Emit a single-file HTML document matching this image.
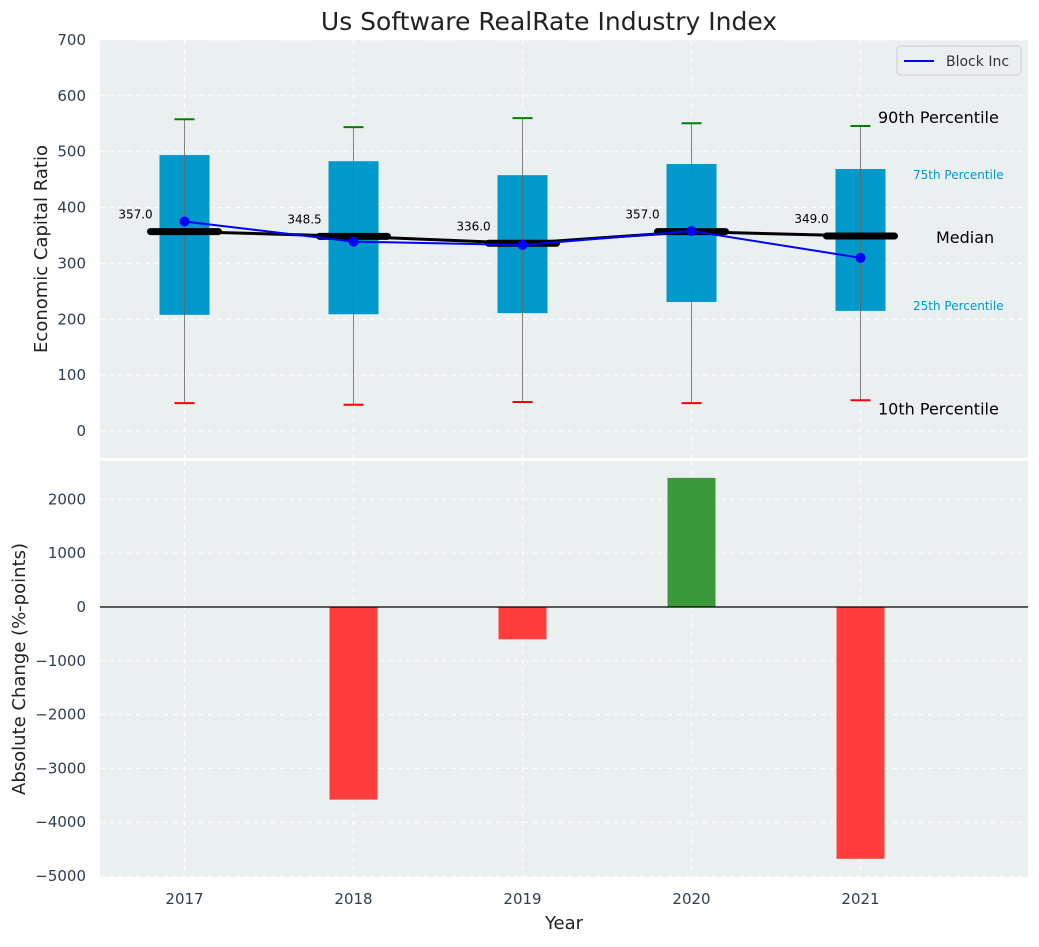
<!DOCTYPE html>
<html><head><meta charset="utf-8"><style>
body{margin:0;background:#fff;font-family:"Liberation Sans","DejaVu Sans",sans-serif}
svg text{font-family:"DejaVu Sans","Liberation Sans",sans-serif}
</style></head><body>
<svg id="c" width="1039" height="942" xmlns="http://www.w3.org/2000/svg"></svg>
<script>
const years=[2017,2018,2019,2020,2021];
const p10=[50,47,52,50,55];
const p25=[208,209,211,231,215];
const medians=[357,348.5,336,357,349];
const p75=[494,483,458,478,469];
const p90=[558,544,560,551,546];
const company=[375,339,333,358,310];
const changes=[0,-3580,-600,2400,-4680];
const topTicks=[0,100,200,300,400,500,600,700];
const botTicks=[-5000,-4000,-3000,-2000,-1000,0,1000,2000];

const svg=document.getElementById('c');
const NS='http://www.w3.org/2000/svg';
function el(t,a,txt){const e=document.createElementNS(NS,t);for(const k in a)e.setAttribute(k,a[k]);if(txt!==undefined)e.textContent=txt;svg.appendChild(e);return e;}
const X=v=>100+(v-2016.5)*169;
const YT=v=>431-v*0.5586;
const YB=v=>607-v*0.0538;

let e;
e=el('rect',{x:100,y:40,width:928,height:418,fill:'#eaeff0'});

e=el('rect',{x:100,y:461,width:928,height:416,fill:'#eaeff0'});

e=el('text',{x:549,y:30,'font-size':25,'text-anchor':'middle',fill:'#222'},'Us Software RealRate Industry Index');


topTicks.forEach(t=>{
 e=el('line',{x1:100,x2:1028,y1:YT(t),y2:YT(t),stroke:'#fff','stroke-dasharray':'5,4','stroke-width':1});
 
 e=el('text',{x:86,y:YT(t)+5,'font-size':15,'text-anchor':'end',fill:'#2c3e50'},t);
 
});
botTicks.forEach(t=>{
 e=el('line',{x1:100,x2:1028,y1:YB(t),y2:YB(t),stroke:'#fff','stroke-dasharray':'5,4','stroke-width':1});
 
 e=el('text',{x:86,y:YB(t)+5,'font-size':15,'text-anchor':'end',fill:'#2c3e50'},t<0?'\u2212'+(-t):t);
 
});
years.forEach(y=>{
 [[40,458],[461,877]].forEach(r=>{
  e=el('line',{x1:X(y),x2:X(y),y1:r[0],y2:r[1],stroke:'#fff','stroke-dasharray':'5,4'});
  
 });
 e=el('text',{x:X(y),y:904,'font-size':15,'text-anchor':'middle',fill:'#2c3e50'},y);
 
});

years.forEach((y,i)=>{
 const x=X(y);
 e=el('rect',{x:x-25,y:YT(p75[i]),width:50,height:YT(p25[i])-YT(p75[i]),fill:'#0099cc'});
 
 e=el('line',{x1:x,x2:x,y1:YT(p90[i]),y2:YT(p10[i]),stroke:'#666','stroke-width':1,opacity:0.8});
 
 e=el('line',{x1:x-10,x2:x+10,y1:YT(p90[i]),y2:YT(p90[i]),stroke:'green','stroke-width':2});
 
 e=el('line',{x1:x-10,x2:x+10,y1:YT(p10[i]),y2:YT(p10[i]),stroke:'red','stroke-width':2});
 
 e=el('line',{x1:x-34,x2:x+34,y1:YT(medians[i]),y2:YT(medians[i]),stroke:'#000','stroke-width':7,'stroke-linecap':'round'});
 
 e=el('text',{x:x-49,y:YT(medians[i])-13,'font-size':12,'text-anchor':'middle',fill:'#000'},medians[i].toFixed(1));
 
});
e=el('polyline',{points:years.map((y,i)=>X(y)+','+YT(medians[i])).join(' '),fill:'none',stroke:'#000','stroke-width':3});

e=el('polyline',{points:years.map((y,i)=>X(y)+','+YT(company[i])).join(' '),fill:'none',stroke:'blue','stroke-width':2});

years.forEach((y,i)=>{
 e=el('circle',{cx:X(y),cy:YT(company[i]),r:5,fill:'blue'});
 
});
const L=4;
e=el('text',{x:878,y:YT(p90[L])-3,'font-size':16,fill:'#000'},'90th Percentile');
e=el('text',{x:913,y:YT(p75[L])+10,'font-size':12,fill:'#0099cc'},'75th Percentile');
e=el('text',{x:936,y:YT(medians[L])+7,'font-size':16,fill:'#000'},'Median');
e=el('text',{x:913,y:YT(p25[L])-1,'font-size':12,fill:'#0099cc'},'25th Percentile');
e=el('text',{x:878,y:YT(p10[L])+14,'font-size':16,fill:'#000'},'10th Percentile');

e=el('rect',{x:897,y:46,width:124,height:29,rx:4,fill:'#eaeff0',stroke:'#ccc'});

e=el('line',{x1:904,x2:934,y1:61,y2:61,stroke:'blue','stroke-width':2});

e=el('text',{x:946,y:66,'font-size':14,fill:'#333'},'Block Inc');


years.forEach((y,i)=>{
 const v=changes[i];
 e=el('rect',{x:X(y)-24,y:Math.min(YB(v),YB(0)),width:48,height:Math.abs(YB(v)-YB(0)),fill:v>=0?'#3a9a3a':'#ff3d3d'});
 
});
e=el('line',{x1:100,x2:1028,y1:YB(0),y2:YB(0),stroke:'#000','stroke-width':1.2});


e=el('text',{x:47,y:249,'font-size':18,'text-anchor':'middle',fill:'#222',transform:'rotate(-90 47 249)'},'Economic Capital Ratio');

e=el('text',{x:25,y:669,'font-size':18,'text-anchor':'middle',fill:'#222',transform:'rotate(-90 25 669)'},'Absolute Change (%-points)');

e=el('text',{x:564,y:929,'font-size':18,'text-anchor':'middle',fill:'#222'},'Year');

</script>
</body></html>
